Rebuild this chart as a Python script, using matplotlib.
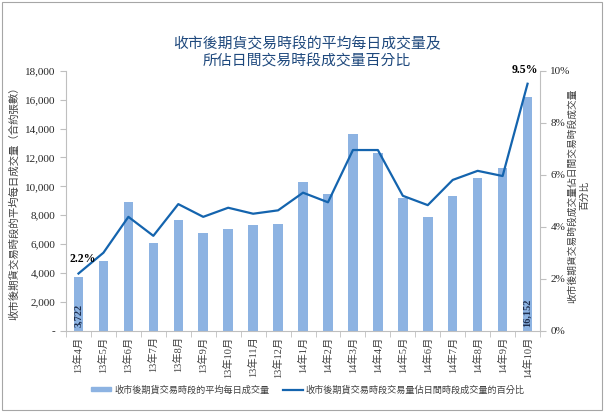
import numpy as np
import matplotlib.pyplot as plt
from matplotlib.patches import Rectangle
from matplotlib.ticker import FuncFormatter

plt.rcParams['font.family'] = ['Liberation Serif', 'Noto Sans CJK TC']

months = ["13年4月", "13年5月", "13年6月", "13年7月", "13年8月", "13年9月",
          "13年10月", "13年11月", "13年12月", "14年1月", "14年2月", "14年3月",
          "14年4月", "14年5月", "14年6月", "14年7月", "14年8月", "14年9月", "14年10月"]
avg_volume = [3722, 4850, 8900, 6090, 7640, 6740, 7010, 7310, 7400, 10290,
              9440, 13600, 12280, 9200, 7870, 9320, 10590, 11260, 16152]
pct_share = [2.2, 3.0, 4.38, 3.65, 4.87, 4.38, 4.73, 4.5, 4.63, 5.31,
             4.94, 6.95, 6.95, 5.19, 4.83, 5.8, 6.15, 5.95, 9.5]

bar_col = '#8DB3E2'
line_col = '#1464AE'
grey = '#BFBFBF'
cjk = ['Noto Sans CJK TC', 'DejaVu Sans']
fsz = 8

fig = plt.figure(figsize=(6.04, 4.12), dpi=100)
fig.patches.append(Rectangle((0.003, 0.004), 0.994, 0.992, transform=fig.transFigure,
                             fill=False, edgecolor='#A6A6A6', linewidth=0.8))

ax = fig.add_axes([0.1093, 0.1973, 0.7848, 0.631])
x = np.arange(len(months))
ax.bar(x, avg_volume, width=0.38, color=bar_col, zorder=2)
ax.set_xlim(-0.5, len(months) - 0.5)
ax.set_ylim(0, 18000)
ax.set_yticks(range(0, 18001, 2000))
ax.yaxis.set_major_formatter(FuncFormatter(lambda v, p: '-' if v == 0 else f'{int(v):,}'))
ax.set_xticks(x)
ax.set_xticklabels(months, rotation=90, fontsize=7.5, color='#404040')
ax.set_xticks(np.arange(-0.5, len(months)), minor=True)
ax.tick_params(axis='x', which='major', length=0, pad=4)
ax.tick_params(axis='x', which='minor', length=4, color=grey)
ax.tick_params(axis='y', labelsize=fsz, length=4, color=grey, labelcolor='#262626')
for s in ['top', 'right']:
    ax.spines[s].set_visible(False)
for s in ['left', 'bottom']:
    ax.spines[s].set_color(grey)
ax.set_ylabel('收市後期貨交易時段的平均每日成交量（合約張數）', family=cjk,
              fontsize=7.5, color='#404040', labelpad=4)

# bar value labels for first and last month
for i in (0, len(months) - 1):
    ax.text(x[i], 250, f'{avg_volume[i]:,}', rotation=90, ha='center', va='bottom',
            fontsize=7.5, fontweight='bold', color='#1F2F4F', zorder=3)

ax2 = ax.twinx()
ax2.plot(x, pct_share, color=line_col, linewidth=1.6, zorder=3)
ax2.set_ylim(0, 10)
ax2.set_yticks(range(0, 11, 2))
ax2.yaxis.set_major_formatter(FuncFormatter(lambda v, p: f'{int(v)}%'))
ax2.tick_params(axis='y', labelsize=fsz, length=4, color=grey, labelcolor='#262626')
for s in ['top', 'left', 'bottom']:
    ax2.spines[s].set_visible(False)
ax2.spines['right'].set_color(grey)
ax2.set_ylabel('收市後期貨交易時段成交量佔日間交易時段成交量\n百分比', family=cjk,
               fontsize=7, color='#404040', rotation=90, linespacing=1.3)
ax2.yaxis.set_label_coords(1.057, 0.52)

ax2.annotate(f'{pct_share[0]}%', (x[0], pct_share[0]), xytext=(3, 8),
             textcoords='offset points', ha='center', fontsize=8.5, fontweight='bold')
ax2.annotate(f'{pct_share[-1]}%', (x[-1], pct_share[-1]), xytext=(-2, 8),
             textcoords='offset points', ha='center', fontsize=8.5, fontweight='bold')

fig.text(0.508, 0.872, '收市後期貨交易時段的平均每日成交量及\n所佔日間交易時段成交量百分比',
         ha='center', va='center', family=cjk, fontsize=10.7, color='#1F497D', linespacing=1.2)

h1 = Rectangle((0, 0), 1, 1, color=bar_col)
h2, = ax.plot([], [], color=line_col, linewidth=1.6)
leg = fig.legend([h1, h2], ['收市後期貨交易時段的平均每日成交量',
                            '收市後期貨交易時段交易量佔日間時段成交量的百分比'],
                 loc='center', bbox_to_anchor=(0.51, 0.054), ncol=2, frameon=False,
                 prop={'family': cjk, 'size': 6.6}, handlelength=2.2, handleheight=0.35,
                 columnspacing=1.5, handletextpad=0.3)
for t in leg.get_texts():
    t.set_color('#404040')

fig.savefig('out.png', dpi=100)
